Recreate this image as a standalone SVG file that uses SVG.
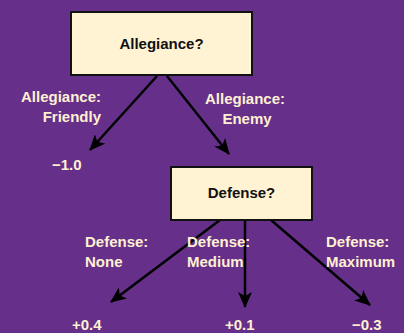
<svg xmlns="http://www.w3.org/2000/svg" width="404" height="333" viewBox="0 0 404 333">
<style>
.box{fill:#FFF3D4;stroke:#111;stroke-width:2}
.nt{font-family:"Liberation Sans",Arial,sans-serif;font-weight:bold;font-size:15px;fill:#111;text-anchor:middle}
.lb{font-family:"Liberation Sans",Arial,sans-serif;font-weight:bold;font-size:15px;fill:#FFF0D2}
.edge{stroke:#000;stroke-width:2.5;fill:none;marker-end:url(#ah)}
</style>
<defs>
<marker id="ah" viewBox="0 0 16 14" refX="15" refY="7" markerWidth="16" markerHeight="14" markerUnits="userSpaceOnUse" orient="auto">
<path d="M0,0 L16,7 L0,14 L4,7 Z" fill="#000"/>
</marker>
</defs>
<rect width="404" height="333" fill="#652F8A"/>
<g id="connectors">
<line class="edge" x1="157" y1="76" x2="90" y2="150"/>
<line class="edge" x1="167" y1="76" x2="229" y2="154"/>
<line class="edge" x1="220" y1="220" x2="111" y2="302"/>
<line class="edge" x1="245" y1="220" x2="245" y2="307"/>
<line class="edge" x1="271" y1="220" x2="370" y2="305"/>
</g>
<g id="allegiance">
<rect class="box" x="71" y="12" width="181" height="63"/>
<text class="nt" x="161.5" y="49">Allegiance?</text>
</g>
<g id="defense">
<rect class="box" x="171" y="167" width="141" height="53"/>
<text class="nt" x="241.5" y="198">Defense?</text>
</g>
<g id="labels">
<text class="lb" x="101" y="102" text-anchor="end">Allegiance:</text>
<text class="lb" x="101" y="122" text-anchor="end">Friendly</text>
<text class="lb" x="245" y="104" text-anchor="middle">Allegiance:</text>
<text class="lb" x="247" y="124" text-anchor="middle">Enemy</text>
<text class="lb" x="85" y="247">Defense:</text>
<text class="lb" x="85" y="267">None</text>
<text class="lb" x="187" y="247">Defense:</text>
<text class="lb" x="187" y="267">Medium</text>
<text class="lb" x="326" y="247">Defense:</text>
<text class="lb" x="326" y="267">Maximum</text>
</g>
<g id="leaf-friendly"><text class="lb" x="52" y="170">−1.0</text></g>
<g id="leaf-none"><text class="lb" x="72" y="330">+0.4</text></g>
<g id="leaf-medium"><text class="lb" x="225" y="330">+0.1</text></g>
<g id="leaf-maximum"><text class="lb" x="352" y="330">−0.3</text></g>
</svg>
